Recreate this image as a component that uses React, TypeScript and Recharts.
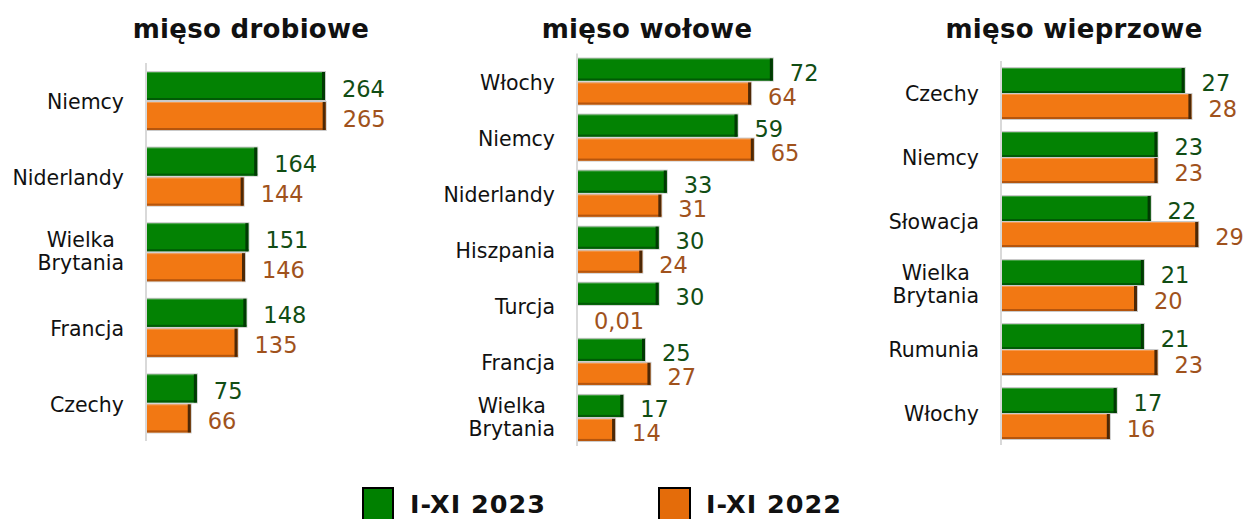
import { BarChart, Bar, XAxis, YAxis, LabelList } from "recharts";

const poultryCountries = ["Niemcy", "Niderlandy", "Wielka Brytania", "Francja", "Czechy"];
const poultry2023 = [264, 164, 151, 148, 75];
const poultry2022 = [265, 144, 146, 135, 66];

const beefCountries = ["Włochy", "Niemcy", "Niderlandy", "Hiszpania", "Turcja", "Francja", "Wielka Brytania"];
const beef2023 = [72, 59, 33, 30, 30, 25, 17];
const beef2022 = [64, 65, 31, 24, 0.01, 27, 14];

const porkCountries = ["Czechy", "Niemcy", "Słowacja", "Wielka Brytania", "Rumunia", "Włochy"];
const pork2023 = [27, 23, 22, 21, 21, 17];
const pork2022 = [28, 23, 29, 20, 23, 16];

const titles = ["mięso drobiowe", "mięso wołowe", "mięso wieprzowe"];
const seriesNames = ["I-XI 2023", "I-XI 2022"];

const FONT = "'DejaVu Sans', Verdana, sans-serif";
const GREEN = { fill: "#038203", dark: "#005a05", edge: "#013a03", text: "#114d14" };
const ORANGE = { fill: "#f27813", dark: "#b5550d", edge: "#4d2806", text: "#a0521c" };

let ctx: CanvasRenderingContext2D | null = null;
const measure = (text: string, size: number) => {
  if (!ctx) ctx = document.createElement("canvas").getContext("2d");
  if (!ctx) return text.length * size * 0.6;
  ctx.font = `${size}px ${FONT}`;
  return ctx.measureText(text).width;
};

const TICK_SIZE = 20.5;

const CountryTick = (props: any) => {
  const { x, y, payload } = props;
  const label: string = payload.value;
  const lines = label.split(" ");
  if (lines.length === 1) {
    return (
      <text x={x} y={y + 8.3} textAnchor="end" fontSize={TICK_SIZE} fill="#111" fontFamily={FONT}>
        {label}
      </text>
    );
  }
  const w = Math.max(...lines.map((l) => measure(l, TICK_SIZE)));
  const cx = x - w / 2;
  return (
    <text textAnchor="middle" fontSize={TICK_SIZE} fill="#111" fontFamily={FONT}>
      <tspan x={cx} y={y - 5}>{lines[0]}</tspan>
      <tspan x={cx} y={y + 18}>{lines[1]}</tspan>
    </text>
  );
};

const bevel = (c: typeof GREEN) => (p: any) => {
  const { x, y, width, height } = p;
  if (!width || width < 1) return <g />;
  return (
    <g>
      <rect x={x - 1} y={y - 1} width={width + 2} height={height + 2} fill="#c9c9c9" />
      <rect x={x} y={y} width={width} height={height} fill={c.fill} />
      <rect x={x} y={y} width={width} height={1} fill="#ffffff" opacity={0.25} />
      <rect x={x} y={y + height - 2} width={width} height={2} fill={c.dark} />
      <rect x={x + width - 3} y={y} width={3} height={height} fill={c.edge} />
    </g>
  );
};

const valueLabel = (color: string, shift: number) => (p: any) => {
  const x = p.x ?? p.viewBox?.x;
  const y = p.y ?? p.viewBox?.y;
  const width = p.width ?? p.viewBox?.width ?? 0;
  const height = p.height ?? p.viewBox?.height ?? 0;
  return (
    <text
      x={x + width + 17}
      y={y + height / 2 + 8 + shift}
      fontSize={22.5}
      fill={color}
      fontFamily={FONT}
    >
      {String(p.value).replace(".", ",")}
    </text>
  );
};

type PanelProps = {
  left: number;
  width: number;
  top: number;
  bottom: number;
  axisWidth: number;
  max: number;
  scale: number;
  countries: string[];
  a: number[];
  b: number[];
  barSize: number;
  gap: number;
  shift: number;
};

const HEIGHT = 470;

function Panel(props: PanelProps) {
  const { left, width, top, bottom, axisWidth, max, scale, countries, a, b, barSize, gap, shift } = props;
  const data = countries.map((c, i) => ({ country: c, y2023: a[i], y2022: b[i] }));
  const plotWidth = max * scale;
  const right = width - 10 - axisWidth - plotWidth;
  return (
    <div style={{ position: "absolute", left, top: 0 }}>
      <BarChart
        width={width}
        height={HEIGHT}
        data={data}
        layout="vertical"
        barGap={gap}
        margin={{ top, bottom: HEIGHT - bottom, left: 10, right }}
      >
        <XAxis type="number" domain={[0, max]} hide />
        <YAxis
          type="category"
          dataKey="country"
          width={axisWidth}
          tick={<CountryTick />}
          tickLine={false}
          tickSize={0}
          tickMargin={22}
          interval={0}
          axisLine={{ stroke: "#d9d9d9", strokeWidth: 2 }}
        />
        <Bar dataKey="y2023" barSize={barSize} fill={GREEN.fill} shape={bevel(GREEN)} isAnimationActive={false}>
          <LabelList dataKey="y2023" content={valueLabel(GREEN.text, shift)} />
        </Bar>
        <Bar dataKey="y2022" barSize={barSize} fill={ORANGE.fill} shape={bevel(ORANGE)} isAnimationActive={false}>
          <LabelList dataKey="y2022" content={valueLabel(ORANGE.text, shift)} />
        </Bar>
      </BarChart>
    </div>
  );
}

export default function App() {
  return (
    <div style={{ position: "absolute", left: 0, top: 0, width: 1245, height: 519, background: "#fff", fontFamily: FONT }}>
      <Panel left={0} width={420} top={63} bottom={441} axisWidth={136} max={300} scale={0.678}
        countries={poultryCountries} a={poultry2023} b={poultry2022} barSize={28} gap={2} shift={2.5} />
      <Panel left={430} width={400} top={53.5} bottom={446} axisWidth={137} max={80} scale={2.72}
        countries={beefCountries} a={beef2023} b={beef2022} barSize={22} gap={2} shift={3.5} />
      <Panel left={840} width={405} top={61} bottom={445} axisWidth={151} max={32} scale={6.8}
        countries={porkCountries} a={pork2023} b={pork2022} barSize={25} gap={1} shift={2.5} />
      <svg width={1245} height={519} style={{ position: "absolute", left: 0, top: 0, pointerEvents: "none" }}>
        {titles.map((t, i) => (
          <text key={t} x={[251, 647, 1074][i]} y={38} textAnchor="middle" fontSize={26} letterSpacing={0.3}
            fontWeight="bold" fill="#111" fontFamily={FONT}>
            {t}
          </text>
        ))}
        <rect x={363} y={488} width={30} height={32} fill="#008000" stroke="#000" strokeWidth={2} />
        <text x={410} y={513} fontSize={25.5} letterSpacing={1} fontWeight="bold" fill="#111" fontFamily={FONT}>{seriesNames[0]}</text>
        <rect x={659} y={488} width={31} height={32} fill="#e46c0a" stroke="#000" strokeWidth={2} />
        <text x={706} y={513} fontSize={25.5} letterSpacing={1} fontWeight="bold" fill="#111" fontFamily={FONT}>{seriesNames[1]}</text>
      </svg>
    </div>
  );
}
